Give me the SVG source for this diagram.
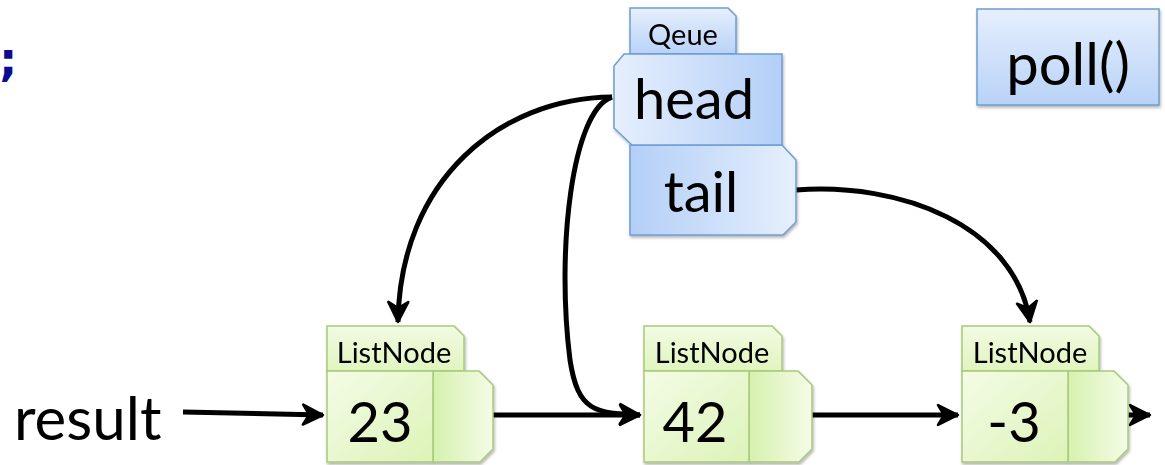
<svg xmlns="http://www.w3.org/2000/svg" width="1165" height="465" viewBox="0 0 1165 465">
<defs>
<linearGradient id="blueLR" x1="0" y1="0" x2="1" y2="0"><stop offset="0" stop-color="#e6effd"/><stop offset="1" stop-color="#b3cff7"/></linearGradient>
<linearGradient id="blueRL" x1="0" y1="0" x2="1" y2="0"><stop offset="0" stop-color="#b3cff7"/><stop offset="1" stop-color="#e6effd"/></linearGradient>
<linearGradient id="blueTB" x1="0" y1="0" x2="0" y2="1"><stop offset="0" stop-color="#e6effd"/><stop offset="1" stop-color="#b8d2f7"/></linearGradient>
<linearGradient id="greenTab" x1="0" y1="0" x2="0" y2="1"><stop offset="0" stop-color="#f2fbe2"/><stop offset="1" stop-color="#e0f5bf"/></linearGradient>
<linearGradient id="greenVal" x1="0" y1="0" x2="1" y2="1"><stop offset="0" stop-color="#f4fce6"/><stop offset="1" stop-color="#dcf3b8"/></linearGradient>
<linearGradient id="greenPtr" x1="0" y1="0" x2="1" y2="0"><stop offset="0" stop-color="#d6f1ae"/><stop offset="1" stop-color="#f4fce8"/></linearGradient>
<filter id="sh" x="-10%" y="-10%" width="125%" height="130%"><feDropShadow dx="1" dy="2" stdDeviation="1.5" flood-color="#000" flood-opacity="0.3"/></filter>
<marker id="ah" viewBox="0 0 24 24" refX="22" refY="12" markerWidth="24" markerHeight="24" markerUnits="userSpaceOnUse" orient="auto">
<path d="M2,2 L22,12 L2,22 L8,12 z" fill="#000" stroke="#000" stroke-width="2.5" stroke-linejoin="round"/>
</marker>
</defs>
<style>
text{font-family:Lato,"Open Sans","Liberation Sans",sans-serif;fill:#000}
.b{stroke:#6e9dd2;stroke-width:1.5}
.g{stroke:#a9c97a;stroke-width:1.5}
.c{fill:none;stroke:#000;stroke-width:5;marker-end:url(#ah)}
.tab{font-size:29px}
.big{font-size:56px}
</style>

<text x="-1" y="75" style="font-family:'DejaVu Sans',sans-serif;font-size:46px;font-weight:bold;fill:#0c0c8e">;</text>

<g id="result">
<text x="14" y="440" style="font-size:60px">result</text>
</g>

<g id="connectors">
<path class="c" d="M183,412 L323,415"/>
<path class="c" d="M493,415 L640,415"/>
<path class="c" d="M812,415 L958,415"/>
<path class="c" d="M1128,415 L1150,415"/>
<path class="c" d="M612,97 C500,98 400,180 398,322"/>
<path class="c" d="M612,97 C572,110 556,250 570,360 C578,412 595,413 640,415"/>
<path class="c" d="M796,190 C900,182 1015,225 1030,322"/>
</g>

<g id="queue" filter="url(#sh)">
<path class="b" fill="url(#blueTB)" d="M630,8 L728,8 L736,16 L736,54 L630,54 Z"/>
<text class="tab" x="683" y="45" text-anchor="middle">Qeue</text>
<path class="b" fill="url(#blueRL)" d="M630,145 L782,145 L796,160 L796,222 L783,235 L630,235 Z"/>
<text class="big" x="701" y="212" text-anchor="middle">tail</text>
<path class="b" fill="url(#blueLR)" d="M624,54 L782,54 L782,145 L632,145 L614,128 L614,66 Z"/>
<text class="big" x="694" y="119" text-anchor="middle">head</text>
</g>

<g id="poll" filter="url(#sh)">
<rect class="b" x="977" y="9" width="182" height="96" fill="url(#blueTB)"/>
<text x="1068" y="85" text-anchor="middle" style="font-size:58px">poll()</text>
</g>

<g id="node1" filter="url(#sh)">
<path class="g" fill="url(#greenTab)" d="M327,326 L454,326 L464,336 L464,371 L327,371 Z"/>
<text class="tab" x="394" y="363" text-anchor="middle">ListNode</text>
<path class="g" fill="url(#greenPtr)" d="M433,371 L479,371 L493,385 L493,449 L480,462 L433,462 Z"/>
<rect class="g" x="327" y="371" width="106" height="91" fill="url(#greenVal)"/>
<text class="big" x="380" y="442" text-anchor="middle">23</text>
</g>

<g id="node2" filter="url(#sh)">
<path class="g" fill="url(#greenTab)" d="M644,326 L772,326 L782,336 L782,371 L644,371 Z"/>
<text class="tab" x="712" y="363" text-anchor="middle">ListNode</text>
<path class="g" fill="url(#greenPtr)" d="M749,371 L798,371 L812,385 L812,449 L799,462 L749,462 Z"/>
<rect class="g" x="644" y="371" width="105" height="91" fill="url(#greenVal)"/>
<text class="big" x="695" y="442" text-anchor="middle">42</text>
</g>

<g id="node3" filter="url(#sh)">
<path class="g" fill="url(#greenTab)" d="M962,326 L1089,326 L1099,336 L1099,371 L962,371 Z"/>
<text class="tab" x="1030" y="363" text-anchor="middle">ListNode</text>
<path class="g" fill="url(#greenPtr)" d="M1068,371 L1114,371 L1128,385 L1128,449 L1115,462 L1068,462 Z"/>
<rect class="g" x="962" y="371" width="106" height="91" fill="url(#greenVal)"/>
<text class="big" x="1014" y="442" text-anchor="middle">-3</text>
</g>
</svg>
